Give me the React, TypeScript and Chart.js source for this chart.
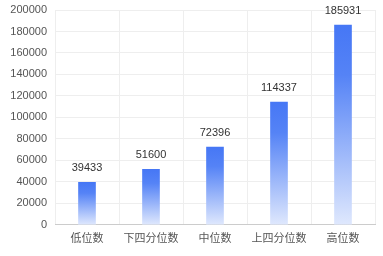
import React, { useEffect, useRef } from "react";
import { Chart, registerables } from "chart.js";

Chart.register(...registerables);

const categories = ["低位数", "下四分位数", "中位数", "上四分位数", "高位数"];
const values = [39433, 51600, 72396, 114337, 185931];
const yMax = 200000;
const yStep = 20000;

const FONT = "'Liberation Sans', 'Noto Sans CJK SC', sans-serif";

const valueLabels = {
  id: "valueLabels",
  afterDatasetsDraw(chart: any) {
    const ctx = chart.ctx;
    const meta = chart.getDatasetMeta(0);
    ctx.save();
    ctx.font = `11px ${FONT}`;
    ctx.fillStyle = "#333";
    ctx.textAlign = "center";
    ctx.textBaseline = "bottom";
    meta.data.forEach((bar: any, i: number) => {
      ctx.fillText(String(values[i]), bar.x, bar.y - 9);
    });
    ctx.restore();
  },
};

export default function App() {
  const ref = useRef<HTMLCanvasElement | null>(null);
  useEffect(() => {
    document.body.style.margin = "0";
    const canvas = ref.current!;
    const chart = new Chart(canvas, {
      type: "bar",
      data: {
        labels: categories,
        datasets: [
          {
            data: values,
            barThickness: 17,
            borderWidth: 0,
            backgroundColor: (c: any) => {
              const ch = c.chart;
              const ys = ch.scales && ch.scales.y;
              if (!ch.chartArea || !ys || c.raw == null) return "#4a7cf6";
              const top = ys.getPixelForValue(c.raw);
              const bottom = ys.getPixelForValue(0);
              const g = ch.ctx.createLinearGradient(0, top, 0, bottom);
              g.addColorStop(0, "#4677f5");
              g.addColorStop(0.25, "#5583f6");
              g.addColorStop(1, "#dfe8fd");
              return g;
            },
          },
        ],
      },
      options: {
        animation: false,
        responsive: true,
        maintainAspectRatio: false,
        layout: { padding: { top: 10, right: 8, bottom: 2, left: 0 } },
        plugins: { legend: { display: false }, tooltip: { enabled: false } },
        scales: {
          x: {
            grid: { color: "#eeeeee", drawTicks: false },
            border: { color: "#cccccc" },
            ticks: { color: "#555", padding: 8, font: { size: 11, family: FONT } },
          },
          y: {
            min: 0,
            max: yMax,
            afterFit: (s: any) => {
              s.width = 55;
              s.paddingTop = 0;
              s.paddingBottom = 0;
            },
            grid: { color: "#eeeeee", drawTicks: false },
            border: { display: false },
            ticks: {
              stepSize: yStep,
              color: "#555",
              padding: 8,
              font: { size: 11, family: FONT },
              callback: (v: any) => String(v),
            },
          },
        },
      },
      plugins: [valueLabels],
    });
    return () => chart.destroy();
  }, []);
  return (
    <div style={{ width: 383, height: 256, position: "relative" }}>
      <canvas ref={ref} />
    </div>
  );
}
